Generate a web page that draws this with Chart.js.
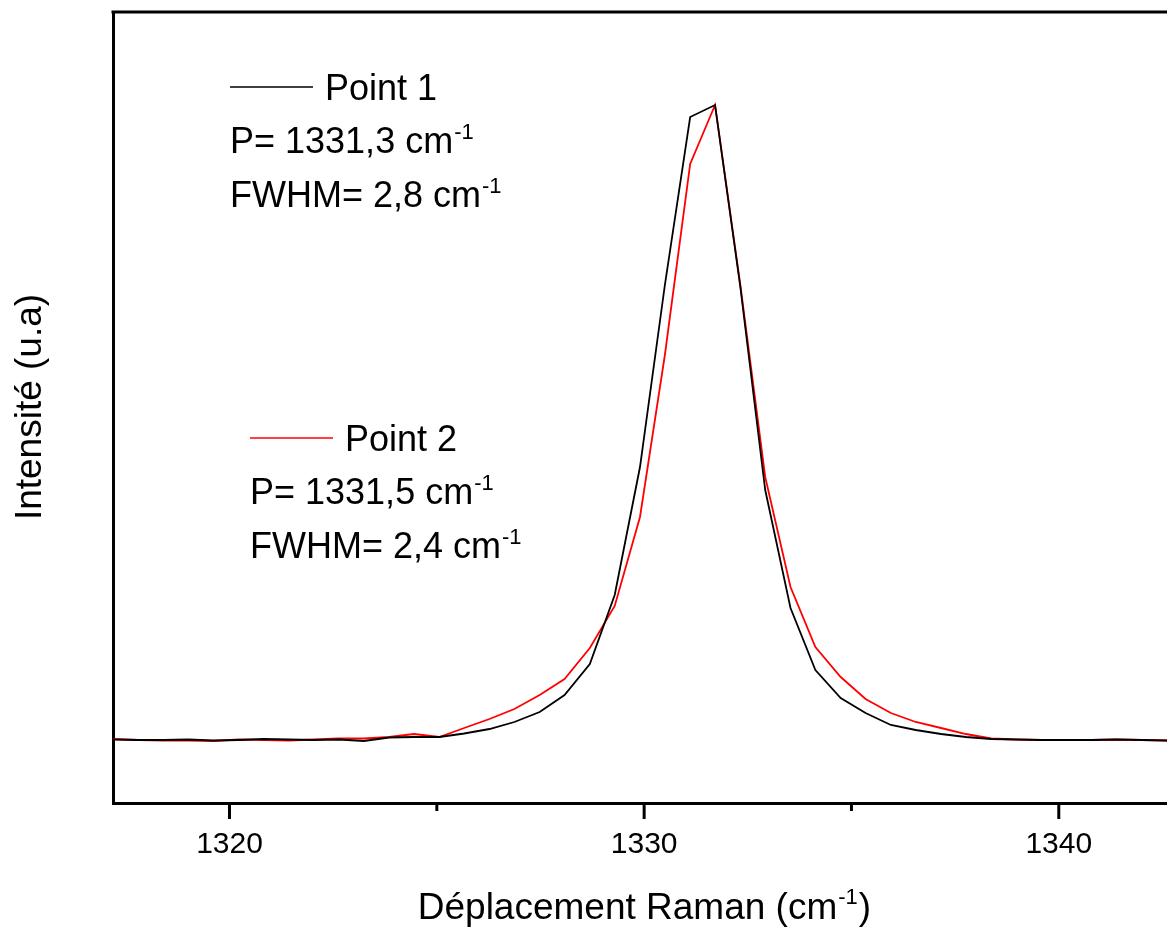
<!DOCTYPE html>
<html lang="fr">
<head>
<meta charset="UTF-8">
<title>Spectre Raman</title>
<script src="https://cdn.jsdelivr.net/npm/chart.js@4.4.0/dist/chart.umd.min.js"></script>
<style>
    body { margin: 0; background: #fff; }
</style>
</head>
<body>

<canvas id="raman" width="1167" height="927"></canvas>

<script>

    // Raman shift (cm-1), one spectrum point every ~0.6 cm-1
    const shift = [1316.58, 1317.19, 1317.80, 1318.40, 1319.00, 1319.61, 1320.22, 1320.82, 1321.43,
        1322.03, 1322.64, 1323.24, 1323.85, 1324.45, 1325.06, 1325.66, 1326.27, 1326.87, 1327.48,
        1328.08, 1328.69, 1329.29, 1329.90, 1330.50, 1331.11, 1331.71, 1332.32, 1332.92, 1333.53,
        1334.13, 1334.74, 1335.34, 1335.95, 1336.55, 1337.16, 1337.76, 1338.37, 1338.97, 1339.58,
        1340.18, 1340.79, 1341.39, 1342.00, 1342.60, 1343.21];

    // intensities (u.a)
    const point1 = [605, 605, 600, 600, 605, 595, 600, 610, 605, 600, 605, 590, 625, 630, 630,
        665, 710, 780, 880, 1050, 1360, 2050, 3330, 5150, 6830, 6950, 5130, 3100, 1920,
        1300, 1020, 870, 750, 700, 660, 630, 610, 605, 600, 600, 600, 605, 600, 595, 595];

    const point2 = [605, 610, 600, 595, 595, 590, 605, 600, 595, 605, 615, 615, 630, 660, 630,
        720, 810, 910, 1050, 1210, 1520, 1940, 2830, 4450, 6360, 6950, 5150, 3230, 2130,
        1530, 1230, 1010, 870, 780, 720, 660, 615, 605, 600, 600, 600, 605, 600, 595, 595];

    const majorTicks = [1320, 1330, 1340];
    const minorTicks = [1325, 1335];

    const notes = [
        {name: 'Point 1', color: '#000000', p: 'P= 1331,3 cm', fwhm: 'FWHM= 2,8 cm', x: 230, y: 87},
        {name: 'Point 2', color: '#ff0000', p: 'P= 1331,5 cm', fwhm: 'FWHM= 2,4 cm', x: 250, y: 438}
    ];

    const FONT = '"Liberation Sans", Arial, sans-serif';

    // text with a "-1" exponent at the end (cm-1)
    function textWithExp(ctx, text, x, y, size, tail) {
        ctx.font = size + 'px ' + FONT;
        ctx.fillText(text, x, y);
        let w = ctx.measureText(text).width + 1;
        ctx.font = Math.round(size * 0.6) + 'px ' + FONT;
        ctx.fillText('-1', x + w, y - size * 0.4);
        w += ctx.measureText('-1').width + 1;
        if (tail) {
            ctx.font = size + 'px ' + FONT;
            ctx.fillText(tail, x + w, y);
            w += ctx.measureText(tail).width;
        }
        return w;
    }

    const decorations = {
        id: 'decorations',
        afterDraw(chart) {
            const ctx = chart.ctx;
            const area = chart.chartArea;
            const xs = chart.scales.x;
            ctx.save();
            ctx.strokeStyle = '#000';
            ctx.fillStyle = '#000';

            // top frame line
            ctx.lineWidth = 3;
            ctx.beginPath();
            ctx.moveTo(area.left - 1.5, area.top);
            ctx.lineTo(area.right, area.top);
            ctx.stroke();

            // outward tick marks
            xs.ticks.forEach(t => {
                const px = xs.getPixelForValue(t.value);
                const len = majorTicks.includes(t.value) ? 16 : 8;
                ctx.beginPath();
                ctx.moveTo(px, area.bottom);
                ctx.lineTo(px, area.bottom + len);
                ctx.stroke();
            });

            ctx.textBaseline = 'alphabetic';
            ctx.textAlign = 'left';

            // x title
            ctx.font = '37px ' + FONT;
            const pre = 'Déplacement Raman (cm';
            const full = ctx.measureText(pre).width + 31;
            textWithExp(ctx, pre, 643 - full / 2, 919, 37, ')');

            // y title
            ctx.save();
            ctx.translate(41, 407);
            ctx.rotate(-Math.PI / 2);
            ctx.textAlign = 'center';
            ctx.font = '37px ' + FONT;
            ctx.fillText('Intensité (u.a)', 0, 0);
            ctx.restore();

            // legend blocks
            notes.forEach(n => {
                ctx.strokeStyle = n.color;
                ctx.lineWidth = 1.5;
                ctx.beginPath();
                ctx.moveTo(n.x, n.y);
                ctx.lineTo(n.x + 83, n.y);
                ctx.stroke();
                ctx.font = '36px ' + FONT;
                ctx.fillText(n.name, n.x + 95, n.y + 13);
                textWithExp(ctx, n.p, n.x, n.y + 66, 36);
                textWithExp(ctx, n.fwhm, n.x, n.y + 120, 36);
            });
            ctx.restore();
        }
    };

    new Chart('raman', {
        type: 'line',
        data: {
            datasets: [
                {
                    label: 'Point 1',
                    data: shift.map((s, i) => ({x: s, y: point1[i]})),
                    borderColor: '#000000',
                    borderWidth: 1.8,
                    pointRadius: 0,
                    tension: 0
                },
                {
                    label: 'Point 2',
                    data: shift.map((s, i) => ({x: s, y: point2[i]})),
                    borderColor: '#ff0000',
                    borderWidth: 1.8,
                    pointRadius: 0,
                    tension: 0
                }
            ]
        },
        options: {
            responsive: false,
            animation: false,
            layout: {padding: {top: 12, left: 0, right: 0, bottom: 0}},
            plugins: {
                legend: {display: false},
                tooltip: {enabled: false}
            },
            scales: {
                x: {
                    type: 'linear',
                    min: 1317.19,
                    max: 1342.61,
                    afterFit: s => { s.height = 124; },
                    afterBuildTicks: s => {
                        s.ticks = majorTicks.concat(minorTicks).sort((a, b) => a - b).map(v => ({value: v}));
                    },
                    grid: {display: false},
                    border: {display: true, color: '#000', width: 3},
                    ticks: {
                        autoSkip: false,
                        maxRotation: 0,
                        padding: 16,
                        color: '#000',
                        font: {family: FONT, size: 30},
                        callback: v => majorTicks.includes(v) ? String(v) : ''
                    }
                },
                y: {
                    min: -30,
                    max: 7880,
                    afterFit: s => { s.width = 113; },
                    grid: {display: false},
                    border: {display: true, color: '#000', width: 3},
                    ticks: {display: false}
                }
            }
        },
        plugins: [decorations]
    });

</script>

</body>
</html>
